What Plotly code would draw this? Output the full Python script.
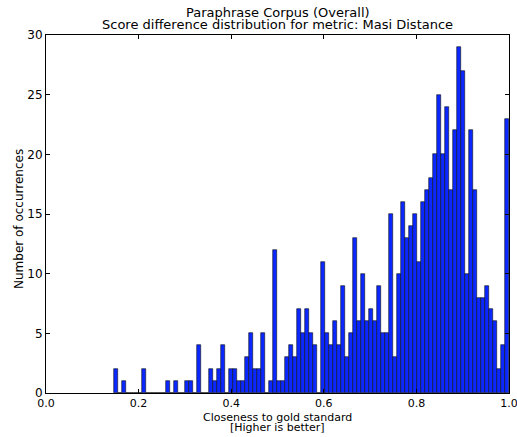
import numpy as np
import plotly.graph_objects as go

# Histogram of score differences: 99 equal-width bins between the observed extremes
bin_lo = 0.146
bin_hi = 1.0
counts = [
    2, 0, 1, 0, 0, 0, 0, 2, 0, 0,
    0, 0, 0, 1, 0, 1, 0, 0, 1, 1,
    0, 4, 0, 0, 2, 1, 2, 4, 0, 2,
    2, 1, 1, 3, 5, 2, 2, 5, 0, 1,
    12, 1, 1, 3, 4, 3, 7, 5, 7, 5,
    4, 0, 11, 5, 4, 6, 4, 9, 3, 5,
    13, 6, 10, 6, 7, 6, 9, 5, 5, 15,
    3, 10, 16, 13, 14, 15, 11, 16, 17, 18,
    20, 25, 20, 24, 17, 22, 29, 27, 10, 22,
    17, 8, 8, 9, 7, 6, 2, 4, 23,
]

x_ticks = [0.0, 0.2, 0.4, 0.6, 0.8, 1.0]
y_ticks = [0, 5, 10, 15, 20, 25, 30]

title_lines = ["Paraphrase Corpus (Overall)",
               "Score difference distribution for metric: Masi Distance"]
x_title_lines = ["Closeness to gold standard", "[Higher is better]"]
y_title = "Number of occurrences"

n_bins = len(counts)
edges = np.linspace(bin_lo, bin_hi, n_bins + 1)
centers = (edges[:-1] + edges[1:]) / 2
widths = np.diff(edges)

W, H = 517, 437
M_L, M_R, M_T, M_B = 46, 8, 35, 44
plot_h = H - M_T - M_B
plot_w = W - M_L - M_R
FONT = "DejaVu Sans"


def py(pixel_y):
    """Page pixel row -> paper y coordinate."""
    return 1 + (M_T - pixel_y) / plot_h


def px(pixel_x):
    """Page pixel column -> paper x coordinate."""
    return (pixel_x - M_L) / plot_w


fig = go.Figure(
    go.Bar(
        x=centers,
        y=counts,
        width=widths,
        marker=dict(color="#0a28ff", line=dict(color="#111111", width=0.6)),
        hoverinfo="x+y",
    )
)

axis_common = dict(
    showgrid=False,
    zeroline=False,
    showline=True,
    linecolor="black",
    linewidth=1,
    mirror="allticks",
    ticks="inside",
    ticklen=4,
    tickwidth=1,
    tickcolor="black",
    automargin=False,
    ticklabeloverflow="allow",
)

fig.update_xaxes(range=[0, 1], tickvals=x_ticks,
                 ticktext=[f"{v:.1f}" for v in x_ticks],
                 tickfont=dict(family=FONT, size=11, color="black"), **axis_common)
fig.update_yaxes(range=[0, 30], tickvals=y_ticks,
                 ticktext=[str(v) for v in y_ticks],
                 tickfont=dict(family=FONT, size=12, color="black"), **axis_common)

annotations = []
for text, y_pix in zip(title_lines, [12, 25]):
    annotations.append(dict(text=text, x=0.5, y=py(y_pix), xref="paper", yref="paper",
                            xanchor="center", yanchor="middle", showarrow=False,
                            font=dict(family=FONT, size=13, color="black")))
for text, y_pix in zip(x_title_lines, [417, 427]):
    annotations.append(dict(text=text, x=0.5, y=py(y_pix), xref="paper", yref="paper",
                            xanchor="center", yanchor="middle", showarrow=False,
                            font=dict(family=FONT, size=11, color="black")))
annotations.append(dict(text=y_title, x=px(19), y=py(219), xref="paper", yref="paper",
                        xanchor="center", yanchor="middle", textangle=-90, showarrow=False,
                        font=dict(family=FONT, size=12, color="black")))

fig.update_layout(
    width=W,
    height=H,
    margin=dict(l=M_L, r=M_R, t=M_T, b=M_B),
    paper_bgcolor="white",
    plot_bgcolor="white",
    showlegend=False,
    bargap=0,
    annotations=annotations,
)

fig.write_html("out.html")
